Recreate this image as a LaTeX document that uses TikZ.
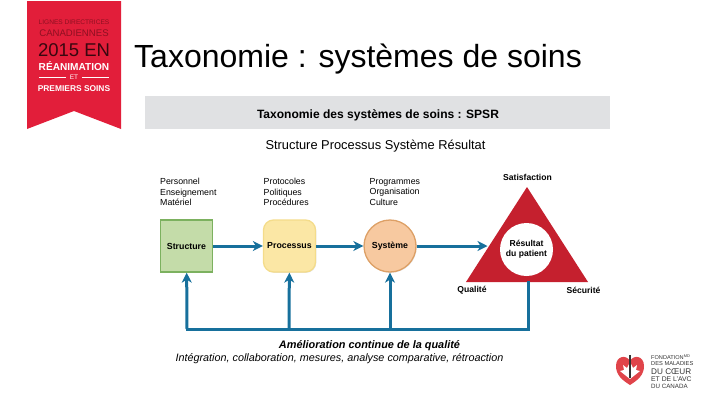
\documentclass[tikz,border=0pt]{standalone}
\usepackage{fontspec}
\setmainfont{Liberation Sans}
\usetikzlibrary{arrows.meta,shadows}
\definecolor{bannerred}{HTML}{E21E3A}
\definecolor{bannerdark}{HTML}{8E1022}
\definecolor{bandgrey}{HTML}{E0E1E3}
\definecolor{flowblue}{HTML}{17709C}
\definecolor{triared}{HTML}{C5202E}
\definecolor{greenfill}{HTML}{C4DCA9}
\definecolor{greenline}{HTML}{7CB15F}
\definecolor{yellowfill}{HTML}{FBE7A5}
\definecolor{yellowline}{HTML}{F4DC8A}
\definecolor{orangefill}{HTML}{F7C9A0}
\definecolor{orangeline}{HTML}{DDA066}
\definecolor{heartred}{HTML}{E0444A}
\tikzset{
    flow/.style={draw=flowblue, line width=3pt, -{Stealth[length=10pt,width=10pt,inset=3pt]}},
    flowline/.style={draw=flowblue, line width=3pt},
    small/.style={font=\fontsize{8.8}{10.6}\selectfont, align=left, inner sep=0pt, anchor=west},
    toplabel/.style={inner sep=0pt, font=\fontsize{8.6}{10}\bfseries\selectfont},
    stage/.style={font=\fontsize{8.8}{10}\bfseries\selectfont, minimum size=52pt, inner sep=0pt, line width=1.3pt,
        drop shadow={opacity=.22, shadow xshift=.8pt, shadow yshift=-.8pt}},
    banner/.style={inner sep=0pt, text=bannerdark},
    logotext/.style={inner sep=0pt, anchor=west, text=black!80},
}
\begin{document}
\begin{tikzpicture}[x=1pt, y=-1pt]
    \useasboundingbox (0,0) rectangle (720,405);
    % banner
    \fill[bannerred] (27,1) -- (121,1) -- (121,129) -- (74,111) -- (27,129) -- cycle;
    \node[banner, font=\fontsize{6.6}{8}\selectfont] (lignes) at (74,22) {LIGNES DIRECTRICES};
    \node[banner, font=\fontsize{9.6}{10}\selectfont] (canada) at (74,33) {CANADIENNES};
    \node[banner, font=\fontsize{18.5}{20}\selectfont, text=black!75!bannerred] (annee) at (74,50) {2015 EN};
    \node[banner, font=\fontsize{10.1}{10}\bfseries\selectfont, text=white] (rea) at (74,66) {RÉANIMATION};
    \node[banner, font=\fontsize{6.5}{8}\selectfont, text=white] (et) at (74,77) {ET};
    \draw[white, line width=0.5pt] (et.west) ++(-4,0) -- ++(-27,0);
    \draw[white, line width=0.5pt] (et.east) ++(4,0) -- ++(27,0);
    \node[banner, font=\fontsize{8.4}{8}\bfseries\selectfont, text=white] (soins) at (74,89) {PREMIERS SOINS};
    % titles
    \node[inner sep=0pt, anchor=base west, font=\fontsize{32}{34}\selectfont] (titre) at (134,67) {Taxonomie : systèmes de soins};
    \fill[bandgrey] (145,96) rectangle (610,129);
    \node[inner sep=0pt, font=\fontsize{12.05}{14}\bfseries\selectfont] (bande) at (378,115.5) {Taxonomie des systèmes de soins : SPSR};
    \node[inner sep=0pt, font=\fontsize{12.85}{14}\selectfont] (sous) at (375.5,146) {Structure Processus Système Résultat};
    % lists
    \node[small] (listeA) at (160,192) {Personnel\\Enseignement\\Matériel};
    \node[small] (listeB) at (263.5,192) {Protocoles\\Politiques\\Procédures};
    \node[small] (listeC) at (369.5,192) {Programmes\\Organisation\\Culture};
    % stages
    \node[stage, draw=greenline, fill=greenfill, rectangle] (structure) at (186.5,246) {Structure};
    \node[stage, draw=yellowline, fill=yellowfill, rectangle, rounded corners=10pt] (processus) at (289.5,246) {Processus};
    \node[stage, draw=orangeline, fill=orangefill, circle] (systeme) at (390,246) {Système};
    % triangle
    \fill[triared] (527,187) -- (588,282) -- (466,282) -- cycle;
    \node[circle, fill=white, minimum size=53pt, inner sep=0pt, align=center, font=\fontsize{8.6}{10}\bfseries\selectfont] (resultat) at (526.5,249.5) {Résultat\\du patient};
    \node[toplabel] (satisf) at (527.5,177.5) {Satisfaction};
    \node[toplabel] (qualite) at (472,290.5) {Qualité};
    \node[toplabel] (securite) at (583.5,290.5) {Sécurité};
    \coordinate (triA) at (487.5,246);
    \coordinate (triB) at (528,282);
    % feedback
    \coordinate (fbA) at (187,329);
    \coordinate (fbB) at (289,329);
    \coordinate (fbC) at (390,329);
    \coordinate (fbD) at (528,329);
    \draw[flow] (structure) -- (processus);
    \draw[flow] (processus) -- (systeme);
    \draw[flow] (systeme) -- (triA);
    \draw[flowline, line cap=rect] (triB) -- (fbD) -- (fbA);
    \draw[flow] (fbA) -- (structure);
    \draw[flow] (fbB) -- (processus);
    \draw[flow] (fbC) -- (systeme);
    \node[inner sep=0pt, font=\fontsize{10.9}{12}\bfseries\itshape\selectfont] (amelior) at (369.5,345.5) {Amélioration continue de la qualité};
    \node[inner sep=0pt, font=\fontsize{10.8}{12}\itshape\selectfont] (integr) at (339.5,358.5) {Intégration, collaboration, mesures, analyse comparative, rétroaction};
    % logo
    \fill[heartred] (630,385) .. controls (622,380) and (616,375) .. (616,366) .. controls (616,356) and (626,354) .. (630,361) .. controls (634,354) and (644,356) .. (644,366) .. controls (644,375) and (638,380) .. (630,385) -- cycle;
    \fill[white] (630,379) -- (620,371) -- (624,370) -- (623,365) -- (627,368) -- (630,362) -- (633,368) -- (637,365) -- (636,370) -- (640,371) -- cycle;
    \draw[black!80, line width=1.3pt] (630,355) -- (630,378);
    \node[logotext, font=\fontsize{5.6}{6}\selectfont] (fond) at (651,357) {FONDATION\textsuperscript{MD}};
    \node[logotext, font=\fontsize{5.7}{6}\selectfont] (malad) at (651,364) {DES MALADIES};
    \node[logotext, font=\fontsize{8.2}{8}\selectfont] (coeur) at (651,371.5) {DU CŒUR};
    \node[logotext, font=\fontsize{6.8}{7}\selectfont] (avc) at (651,379) {ET DE L'AVC};
    \node[logotext, font=\fontsize{6.2}{6}\selectfont] (canad) at (651,386) {DU CANADA};
\end{tikzpicture}
\end{document}
